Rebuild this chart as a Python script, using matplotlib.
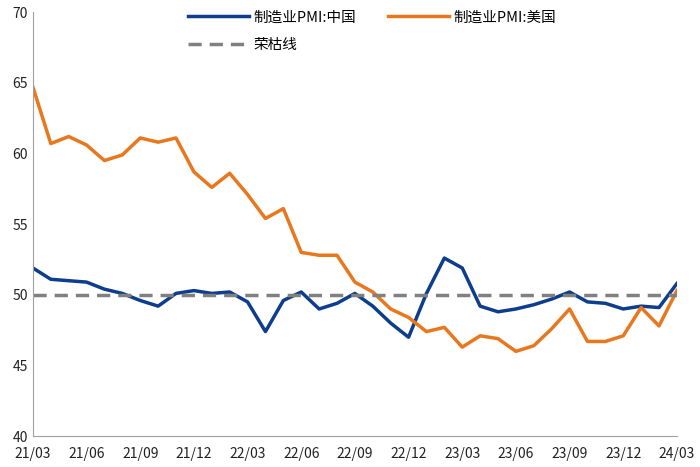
import numpy as np
import matplotlib.pyplot as plt

plt.rcParams['font.family'] = ['Noto Sans CJK SC', 'DejaVu Sans']

# monthly 21/03 .. 24/03
months = ['21/03', '21/04', '21/05', '21/06', '21/07', '21/08', '21/09', '21/10', '21/11', '21/12',
          '22/01', '22/02', '22/03', '22/04', '22/05', '22/06', '22/07', '22/08', '22/09', '22/10',
          '22/11', '22/12', '23/01', '23/02', '23/03', '23/04', '23/05', '23/06', '23/07', '23/08',
          '23/09', '23/10', '23/11', '23/12', '24/01', '24/02', '24/03']

pmi_china = [51.9, 51.1, 51.0, 50.9, 50.4, 50.1, 49.6, 49.2, 50.1, 50.3,
             50.1, 50.2, 49.5, 47.4, 49.6, 50.2, 49.0, 49.4, 50.1, 49.2,
             48.0, 47.0, 50.1, 52.6, 51.9, 49.2, 48.8, 49.0, 49.3, 49.7,
             50.2, 49.5, 49.4, 49.0, 49.2, 49.1, 50.8]

pmi_us = [64.7, 60.7, 61.2, 60.6, 59.5, 59.9, 61.1, 60.8, 61.1, 58.7,
          57.6, 58.6, 57.1, 55.4, 56.1, 53.0, 52.8, 52.8, 50.9, 50.2,
          49.0, 48.4, 47.4, 47.7, 46.3, 47.1, 46.9, 46.0, 46.4, 47.6,
          49.0, 46.7, 46.7, 47.1, 49.1, 47.8, 50.3]

boom_bust = 50

x = np.arange(len(months))

fig = plt.figure(figsize=(7, 4.67), dpi=100)
ax = fig.add_axes([0.047, 0.066, 0.92, 0.908])

l_cn, = ax.plot(x, pmi_china, color='#0D3D8C', lw=2.5, label='制造业PMI:中国')
l_us, = ax.plot(x, pmi_us, color='#E8771E', lw=2.5, label='制造业PMI:美国')
l_bb, = ax.plot(x, [boom_bust] * len(x), color='#808080', lw=2.5, ls=(0, (3.8, 2.3)), label='荣枯线')

ax.set_xlim(0, len(x) - 1)
ax.set_ylim(40, 70)
ax.set_yticks(range(40, 71, 5))
ax.set_xticks(x[::3])
ax.set_xticklabels(months[::3])
ax.tick_params(length=0, labelsize=10, colors='#222222')
ax.tick_params(axis='x', pad=8)

for s in ['top', 'right']:
    ax.spines[s].set_visible(False)
for s in ['left', 'bottom']:
    ax.spines[s].set_color('#A0A0A0')

# column-wise fill: china, boom/bust in col 1, us in col 2
ax.legend([l_cn, l_bb, l_us], [l_cn.get_label(), l_bb.get_label(), l_us.get_label()],
          ncol=2, frameon=False, fontsize=10.5, loc='upper left',
          bbox_to_anchor=(0.22, 1.035), handlelength=4.2, handletextpad=0.3,
          columnspacing=2.2, labelspacing=0.95)

fig.savefig('out.png', dpi=100)
